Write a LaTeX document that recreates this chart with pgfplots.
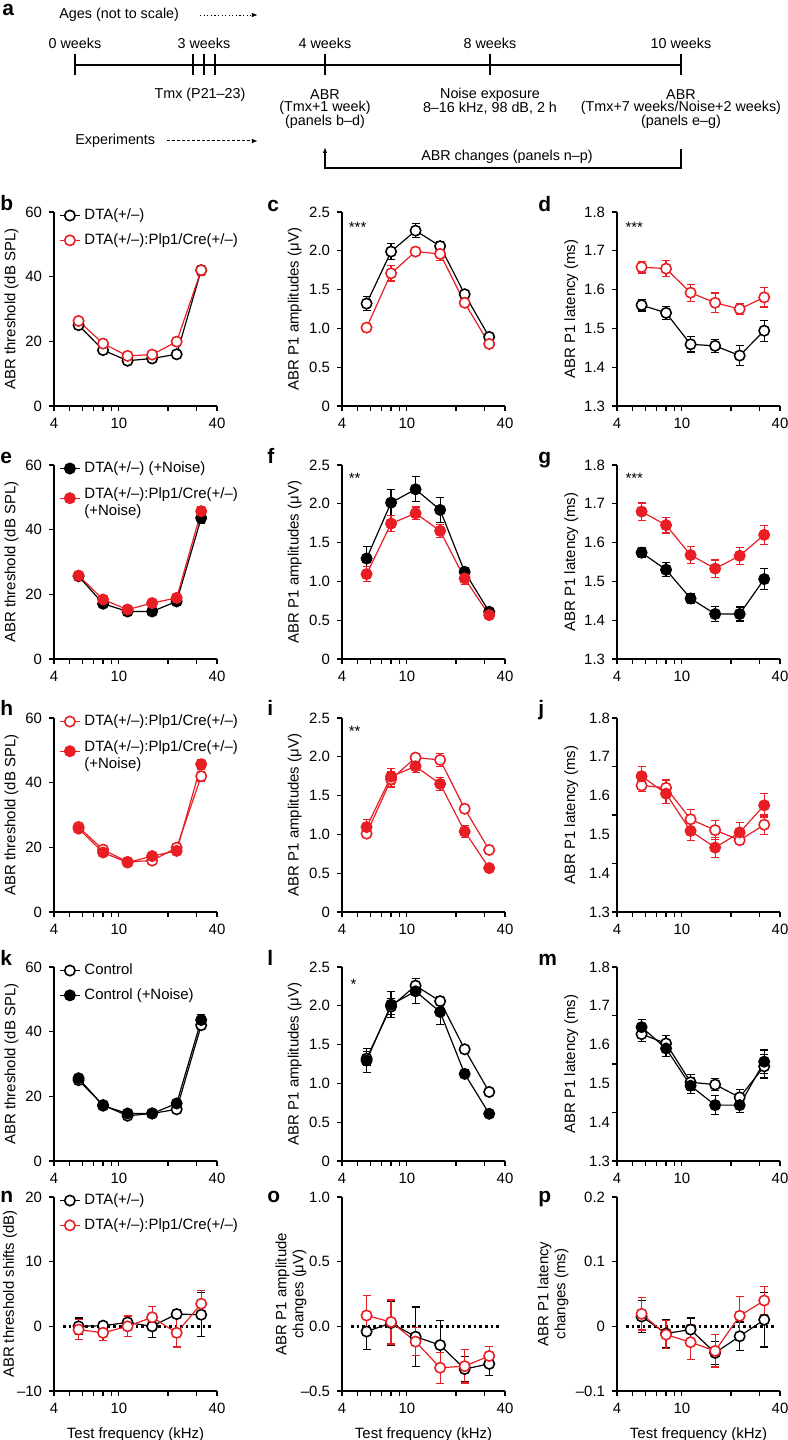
\documentclass[border=0pt]{standalone}
\usepackage{fontspec}
\setmainfont{Liberation Sans}
\usepackage{pgfplots}
\usepackage{pgfplotstable}
\pgfplotsset{compat=1.18}
\usetikzlibrary{arrows.meta}
\definecolor{myred}{RGB}{232,30,36}
\newcommand\fs{\fontsize{7.5}{8.6}\selectfont}
\newcommand\ft{\fontsize{7.2}{8.6}\selectfont}
\newcommand\fl{\fontsize{10.5}{12}\selectfont\bfseries}
\newcommand\two[2]{\begin{tabular}{@{}l@{}}#1\\#2\end{tabular}}

% ---------------- data (frequency kHz, mean, s.e.m.) ----------------
\pgfplotstableread{
f y e
5.66 25.0 0.8
8 17.3 0.8
11.31 14.0 0.8
16 14.7 0.8
22.63 16.0 1.0
32 42.0 1.2
}\tBk
\pgfplotstableread{
f y e
5.66 26.3 0.8
8 19.3 0.8
11.31 15.5 0.8
16 15.9 0.8
22.63 19.9 1.0
32 42.0 1.5
}\tBr
\pgfplotstableread{
f y e
5.66 1.32 0.09
8 1.99 0.10
11.31 2.26 0.09
16 2.06 0.06
22.63 1.44 0.04
32 0.89 0.03
}\tCk
\pgfplotstableread{
f y e
5.66 1.01 0.03
8 1.71 0.10
11.31 1.99 0.03
16 1.96 0.08
22.63 1.33 0.04
32 0.80 0.04
}\tCr
\pgfplotstableread{
f y e
5.66 1.560 0.015
8 1.540 0.017
11.31 1.459 0.020
16 1.455 0.017
22.63 1.430 0.025
32 1.494 0.027
}\tDk
\pgfplotstableread{
f y e
5.66 1.658 0.015
8 1.654 0.020
11.31 1.592 0.022
16 1.566 0.025
22.63 1.550 0.015
32 1.580 0.025
}\tDr
\pgfplotstableread{
f y e
5.66 25.6 0.8
8 17.1 0.8
11.31 14.7 0.8
16 14.7 0.8
22.63 17.8 1.0
32 43.6 1.8
}\tEk
\pgfplotstableread{
f y e
5.66 25.8 0.8
8 18.4 0.8
11.31 15.3 0.8
16 17.3 0.8
22.63 18.9 1.0
32 45.7 1.5
}\tEr
\pgfplotstableread{
f y e
5.66 1.295 0.15
8 2.015 0.17
11.31 2.187 0.16
16 1.921 0.16
22.63 1.123 0.05
32 0.609 0.02
}\tFk
\pgfplotstableread{
f y e
5.66 1.094 0.10
8 1.745 0.10
11.31 1.878 0.08
16 1.651 0.08
22.63 1.038 0.08
32 0.566 0.02
}\tFr
\pgfplotstableread{
f y e
5.66 1.574 0.012
8 1.530 0.018
11.31 1.456 0.012
16 1.416 0.020
22.63 1.416 0.018
32 1.506 0.027
}\tGk
\pgfplotstableread{
f y e
5.66 1.680 0.022
8 1.645 0.020
11.31 1.568 0.022
16 1.533 0.022
22.63 1.566 0.022
32 1.620 0.025
}\tGr
\pgfplotstableread{
f y e
5.66 1.626 0.015
8 1.620 0.020
11.31 1.539 0.025
16 1.511 0.025
22.63 1.485 0.012
32 1.525 0.025
}\tJo
\pgfplotstableread{
f y e
5.66 1.650 0.025
8 1.605 0.025
11.31 1.509 0.025
16 1.466 0.025
22.63 1.505 0.025
32 1.575 0.030
}\tJf
\pgfplotstableread{
f y e
5.66 1.627 0.020
8 1.603 0.020
11.31 1.503 0.020
16 1.497 0.015
22.63 1.464 0.020
32 1.544 0.030
}\tMo
\pgfplotstableread{
f y e
5.66 1.645 0.020
8 1.590 0.020
11.31 1.494 0.020
16 1.444 0.025
22.63 1.444 0.020
32 1.556 0.030
}\tMf
\pgfplotstableread{
f y e
5.66 0.0 1.3
8 0.1 0.5
11.31 0.6 1.0
16 0.0 1.7
22.63 1.9 0.7
32 1.8 3.4
}\tNk
\pgfplotstableread{
f y e
5.66 -0.5 1.5
8 -1.0 1.2
11.31 0.0 1.6
16 1.4 1.7
22.63 -1.0 2.2
32 3.5 2.0
}\tNr
\pgfplotstableread{
f y e
5.66 -0.040 0.14
8 0.026 0.17
11.31 -0.080 0.23
16 -0.145 0.19
22.63 -0.330 0.10
32 -0.290 0.09
}\tOk
\pgfplotstableread{
f y e
5.66 0.084 0.155
8 0.034 0.17
11.31 -0.118 0.11
16 -0.320 0.12
22.63 -0.308 0.13
32 -0.229 0.075
}\tOr
\pgfplotstableread{
f y e
5.66 0.0153 0.025
8 -0.0110 0.022
11.31 -0.0050 0.018
16 -0.0410 0.018
22.63 -0.0153 0.022
32 0.0102 0.042
}\tPk
\pgfplotstableread{
f y e
5.66 0.0194 0.025
8 -0.0128 0.022
11.31 -0.0245 0.027
16 -0.0380 0.025
22.63 0.0163 0.030
32 0.0399 0.022
}\tPr

\pgfplotsset{
 openK/.style={black, line width=0.6pt, mark=*, mark size=2.6bp,
   mark options={fill=white, draw=black, line width=0.8pt, solid},
   error bars/y dir=both, error bars/y explicit,
   error bars/error bar style={black, line width=0.6pt},
   error bars/error mark options={black, rotate=90, mark size=2bp, line width=0.6pt}},
 openR/.style={myred, line width=0.6pt, mark=*, mark size=2.6bp,
   mark options={fill=white, draw=myred, line width=0.8pt, solid},
   error bars/y dir=both, error bars/y explicit,
   error bars/error bar style={myred, line width=0.6pt},
   error bars/error mark options={myred, rotate=90, mark size=2bp, line width=0.6pt}},
 fillK/.style={black, line width=0.6pt, mark=*, mark size=2.7bp,
   mark options={fill=black, draw=black, solid},
   error bars/y dir=both, error bars/y explicit,
   error bars/error bar style={black, line width=0.6pt},
   error bars/error mark options={black, rotate=90, mark size=2bp, line width=0.6pt}},
 fillR/.style={myred, line width=0.6pt, mark=*, mark size=2.7bp,
   mark options={fill=myred, draw=myred, solid},
   error bars/y dir=both, error bars/y explicit,
   error bars/error bar style={myred, line width=0.6pt},
   error bars/error mark options={myred, rotate=90, mark size=2bp, line width=0.6pt}},
}

% #1 position, #2 extra options, #3 content
\newcommand\Ax[3]{%
\begin{axis}[scale only axis, width=81.5bp, height=97bp, anchor=south west, at={#1},
   xmode=log, xmin=4, xmax=40, xtick={4,10,40}, xticklabels={4,10,40},
   minor xtick={5,6,7,8,9,20,30},
   axis x line*=bottom, axis y line*=left, tick align=outside,
   major tick length=2.5bp, minor tick length=2.5bp,
   tick style={black, line width=0.6pt},
   axis line style={line width=0.6pt},
   ticklabel style={font=\fs}, label style={font=\fs},
   ylabel style={at={(axis description cs:-0.26,0.5)}, anchor=center},
   clip=false,
   legend style={draw=none, fill=none, font=\fs, at={(0.03,1.04)},
     anchor=north west, row sep=1.5bp, inner sep=0pt},
   legend cell align=left,
   legend image code/.code={\draw[mark repeat=2,mark phase=2] plot coordinates {(0bp,0bp) (5bp,0bp) (10bp,0bp)};},
   #2]
#3
\end{axis}}

\begin{document}
\begin{tikzpicture}
\path[use as bounding box] (0,0) rectangle (394bp,-720bp);

% ================= panel a : timeline =================
\begin{scope}[x=0.5bp, y=-0.5bp]
\node[font=\fl, anchor=base west, inner sep=0] at (2,15) {a};
\node[font=\ft, anchor=west, inner sep=0] at (59,15) {Ages (not to scale)};
\draw[line width=0.5pt, dash pattern=on 0.6pt off 1.2pt, -{Latex[length=3bp,width=2.2bp]}] (200,15) -- (258,15);
\foreach \x/\t in {75/0 weeks, 204/3 weeks, 325/4 weeks, 490/8 weeks, 681/10 weeks}
  \node[font=\ft, inner sep=0] at (\x,43) {\t};
\draw[line width=0.6pt] (75,65) -- (681,65);
\foreach \x in {75,193,204,215,325,490,681}
  \draw[line width=0.6pt] (\x,54) -- (\x,75);
\node[font=\ft, inner sep=0] at (200,95) {Tmx (P21–23)};
\node[font=\ft, inner sep=0] at (325,95) {ABR};
\node[font=\ft, inner sep=0] at (325,108) {(Tmx+1 week)};
\node[font=\ft, inner sep=0] at (325,121.5) {(panels b–d)};
\node[font=\ft, inner sep=0] at (490,95) {Noise exposure};
\node[font=\ft, inner sep=0] at (490,108) {8–16 kHz, 98 dB, 2 h};
\node[font=\ft, inner sep=0] at (681,95) {ABR};
\node[font=\ft, inner sep=0] at (681,108) {(Tmx+7 weeks/Noise+2 weeks)};
\node[font=\ft, inner sep=0] at (681,121.5) {(panels e–g)};
\node[font=\ft, anchor=west, inner sep=0] at (75,141) {Experiments};
\draw[line width=0.5pt, dash pattern=on 1.5pt off 1pt, -{Latex[length=3bp,width=2.2bp]}] (167,141) -- (258,141);
\draw[line width=0.6pt, -{Latex[length=3bp,width=2.2bp]}] (681,149) -- (681,168) -- (325,168) -- (325,147);
\node[font=\ft, inner sep=0] at (507,157) {ABR changes (panels n–p)};

% panel letters
\foreach \x/\y/\l in {0/211/b,267/212/c,538/212/d,
                      0/464/e,267/464/f,538/464/g,
                      0/716/h,267/716/i,538/716/j,
                      0/966/k,267/966/l,538/966/m,
                      0/1203/n,267/1203/o,538/1203/p}
  \node[font=\fl, anchor=base west, inner sep=0] at (\x,\y) {\l};
\end{scope}

% ================= row b c d =================
\Ax{(27bp,-203bp)}{ymin=0, ymax=60, ytick={0,20,40,60}, yticklabels={0,20,40,60}, ylabel={ABR threshold (dB SPL)}}{
\addplot[openK] table[x=f,y=y,y error=e] {\tBk}; \addlegendentry{DTA(+/–)}
\addplot[openR] table[x=f,y=y,y error=e] {\tBr}; \addlegendentry{DTA(+/–):Plp1/Cre(+/–)}
}
\Ax{(171bp,-203bp)}{ymin=0, ymax=2.5, ytick={0,0.5,1,1.5,2,2.5}, yticklabels={0,0.5,1.0,1.5,2.0,2.5}, ylabel={ABR P1 amplitudes (μV)}, ylabel style={at={(axis description cs:-0.29,0.5)}}}{
\addplot[openK] table[x=f,y=y,y error=e] {\tCk};
\addplot[openR] table[x=f,y=y,y error=e] {\tCr};
\node[font=\fs, anchor=west, inner sep=0] at (rel axis cs:0.04,0.92) {***};
}
\Ax{(308.5bp,-203bp)}{ymin=1.3, ymax=1.8, ytick={1.3,1.4,1.5,1.6,1.7,1.8}, yticklabels={1.3,1.4,1.5,1.6,1.7,1.8}, ylabel={ABR P1 latency (ms)}, ylabel style={at={(axis description cs:-0.28,0.5)}}}{
\addplot[openR] table[x=f,y=y,y error=e] {\tDr};
\addplot[openK] table[x=f,y=y,y error=e] {\tDk};
\node[font=\fs, anchor=west, inner sep=0] at (rel axis cs:0.05,0.92) {***};
}

% ================= row e f g =================
\Ax{(27bp,-329.5bp)}{ymin=0, ymax=60, ytick={0,20,40,60}, yticklabels={0,20,40,60}, ylabel={ABR threshold (dB SPL)}}{
\addplot[fillK] table[x=f,y=y,y error=e] {\tEk}; \addlegendentry{DTA(+/–) (+Noise)}
\addplot[fillR] table[x=f,y=y,y error=e] {\tEr}; \addlegendentry{\two{DTA(+/–):Plp1/Cre(+/–)}{(+Noise)}}
}
\Ax{(171bp,-329.5bp)}{ymin=0, ymax=2.5, ytick={0,0.5,1,1.5,2,2.5}, yticklabels={0,0.5,1.0,1.5,2.0,2.5}, ylabel={ABR P1 amplitudes (μV)}, ylabel style={at={(axis description cs:-0.29,0.5)}}}{
\addplot[fillK] table[x=f,y=y,y error=e] {\tFk};
\addplot[fillR] table[x=f,y=y,y error=e] {\tFr};
\node[font=\fs, anchor=west, inner sep=0] at (rel axis cs:0.04,0.93) {**};
}
\Ax{(308.5bp,-329.5bp)}{ymin=1.3, ymax=1.8, ytick={1.3,1.4,1.5,1.6,1.7,1.8}, yticklabels={1.3,1.4,1.5,1.6,1.7,1.8}, ylabel={ABR P1 latency (ms)}, ylabel style={at={(axis description cs:-0.28,0.5)}}}{
\addplot[fillR] table[x=f,y=y,y error=e] {\tGr};
\addplot[fillK] table[x=f,y=y,y error=e] {\tGk};
\node[font=\fs, anchor=west, inner sep=0] at (rel axis cs:0.05,0.93) {***};
}

% ================= row h i j =================
\Ax{(27bp,-456bp)}{ymin=0, ymax=60, ytick={0,20,40,60}, yticklabels={0,20,40,60}, ylabel={ABR threshold (dB SPL)}}{
\addplot[openR] table[x=f,y=y,y error=e] {\tBr}; \addlegendentry{DTA(+/–):Plp1/Cre(+/–)}
\addplot[fillR] table[x=f,y=y,y error=e] {\tEr}; \addlegendentry{\two{DTA(+/–):Plp1/Cre(+/–)}{(+Noise)}}
}
\Ax{(171bp,-456bp)}{ymin=0, ymax=2.5, ytick={0,0.5,1,1.5,2,2.5}, yticklabels={0,0.5,1.0,1.5,2.0,2.5}, ylabel={ABR P1 amplitudes (μV)}, ylabel style={at={(axis description cs:-0.29,0.5)}}}{
\addplot[openR] table[x=f,y=y,y error=e] {\tCr};
\addplot[fillR] table[x=f,y=y,y error=e] {\tFr};
\node[font=\fs, anchor=west, inner sep=0] at (rel axis cs:0.04,0.93) {**};
}
\Ax{(308.5bp,-456bp)}{ymin=1.3, ymax=1.8, ytick={1.3,1.425,1.55,1.675,1.8}, yticklabels={},
   extra y ticks={1.3,1.4,1.5,1.6,1.7,1.8}, extra y tick labels={1.3,1.4,1.5,1.6,1.7,1.8},
   extra y tick style={major tick length=0pt}, ylabel={ABR P1 latency (ms)}, ylabel style={at={(axis description cs:-0.28,0.5)}}}{
\addplot[openR] table[x=f,y=y,y error=e] {\tJo};
\addplot[fillR] table[x=f,y=y,y error=e] {\tJf};
}

% ================= row k l m =================
\Ax{(27bp,-580.5bp)}{ymin=0, ymax=60, ytick={0,20,40,60}, yticklabels={0,20,40,60}, ylabel={ABR threshold (dB SPL)}}{
\addplot[openK] table[x=f,y=y,y error=e] {\tBk}; \addlegendentry{Control}
\addplot[fillK] table[x=f,y=y,y error=e] {\tEk}; \addlegendentry{Control (+Noise)}
}
\Ax{(171bp,-580.5bp)}{ymin=0, ymax=2.5, ytick={0,0.5,1,1.5,2,2.5}, yticklabels={0,0.5,1.0,1.5,2.0,2.5}, ylabel={ABR P1 amplitudes (μV)}, ylabel style={at={(axis description cs:-0.29,0.5)}}}{
\addplot[openK] table[x=f,y=y,y error=e] {\tCk};
\addplot[fillK] table[x=f,y=y,y error=e] {\tFk};
\node[font=\fs, anchor=west, inner sep=0] at (rel axis cs:0.05,0.91) {*};
}
\Ax{(308.5bp,-580.5bp)}{ymin=1.3, ymax=1.8, ytick={1.3,1.425,1.55,1.675,1.8}, yticklabels={},
   extra y ticks={1.3,1.4,1.5,1.6,1.7,1.8}, extra y tick labels={1.3,1.4,1.5,1.6,1.7,1.8},
   extra y tick style={major tick length=0pt}, ylabel={ABR P1 latency (ms)}, ylabel style={at={(axis description cs:-0.28,0.5)}}}{
\addplot[openK] table[x=f,y=y,y error=e] {\tMo};
\addplot[fillK] table[x=f,y=y,y error=e] {\tMf};
}

% ================= row n o p =================
\Ax{(27bp,-695.5bp)}{ymin=-10, ymax=20, ytick={-10,0,10,20}, yticklabels={–10,0,10,20},
  ylabel={ABR threshold shifts (dB)}, ylabel style={at={(axis description cs:-0.27,0.5)}}, xlabel={Test frequency (kHz)}}{
\addplot[black, line width=1.3pt, dash pattern=on 1.3pt off 1.5pt, forget plot] coordinates {(4.55,0) (37.4,0)};
\addplot[openK] table[x=f,y=y,y error=e] {\tNk}; \addlegendentry{DTA(+/–)}
\addplot[openR] table[x=f,y=y,y error=e] {\tNr}; \addlegendentry{DTA(+/–):Plp1/Cre(+/–)}
}
\Ax{(171bp,-695.5bp)}{ymin=-0.5, ymax=1, ytick={-0.5,0,0.5,1}, yticklabels={–0.5,0.0,0.5,1.0},
  ylabel={\begin{tabular}{@{}c@{}}ABR P1 amplitude\\changes (μV)\end{tabular}}, ylabel style={at={(axis description cs:-0.31,0.5)}}, xlabel={Test frequency (kHz)}}{
\addplot[black, line width=1.3pt, dash pattern=on 1.3pt off 1.5pt, forget plot] coordinates {(4.55,0) (37.4,0)};
\addplot[openK] table[x=f,y=y,y error=e] {\tOk};
\addplot[openR] table[x=f,y=y,y error=e] {\tOr};
}
\Ax{(308.5bp,-695.5bp)}{ymin=-0.1, ymax=0.2, ytick={-0.1,0,0.1,0.2}, yticklabels={–0.1,0,0.1,0.2},
  ylabel={\begin{tabular}{@{}c@{}}ABR P1 latency\\changes (ms)\end{tabular}}, ylabel style={at={(axis description cs:-0.39,0.5)}}, xlabel={Test frequency (kHz)}}{
\addplot[black, line width=1.3pt, dash pattern=on 1.3pt off 1.5pt, forget plot] coordinates {(4.55,0) (37.4,0)};
\addplot[openK] table[x=f,y=y,y error=e] {\tPk};
\addplot[openR] table[x=f,y=y,y error=e] {\tPr};
}
\end{tikzpicture}
\end{document}
